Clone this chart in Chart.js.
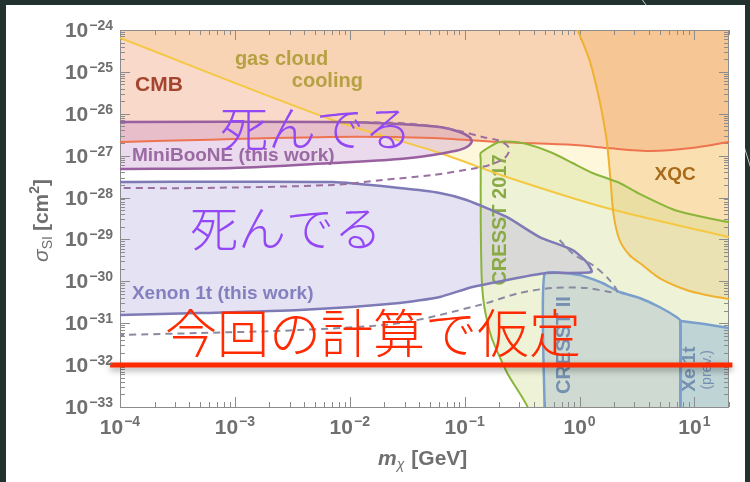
<!DOCTYPE html>
<html>
<head>
<meta charset="utf-8">
<script src="https://cdn.jsdelivr.net/npm/chart.js@4.4.0/dist/chart.umd.min.js"></script>
<style>
  html, body { margin: 0; padding: 0; background: #22332f; }
  #wrap { width: 750px; height: 482px; }
</style>
</head>
<body>
<div id="wrap"><canvas id="chart" width="750" height="482"></canvas></div>
<script>
// tick label exponents
const xTickExps = [-4, -3, -2, -1, 0, 1];
const yTickExps = [-33, -32, -31, -30, -29, -28, -27, -26, -25, -24];

// CMB bound (mass in GeV, cross section in cm^2)
const cmbMass  = [1e-4, 6.7e-3, 0.0527, 0.194, 0.906, 1.75, 4.23, 9.42, 20];
const cmbSigma = [2.12e-27, 2.79e-27, 2.64e-27, 2.12e-27, 1.80e-27, 1.52e-27, 1.29e-27, 1.52e-27, 2.12e-27];

// gas cloud cooling
const gasMass  = [1e-4, 7.1e-3, 0.0607, 0.232, 1.72, 20];
const gasSigma = [6.44e-25, 7.11e-27, 1.16e-27, 3.10e-28, 5.64e-29, 1.14e-29];

// XQC
const xqcMass  = [0.961, 1.22, 1.49, 1.72, 1.86, 1.98, 2.23, 2.72, 3.53, 4.96, 8.51, 12.7, 20];
const xqcSigma = [1e-24, 1.92e-25, 2.13e-26, 2.37e-27, 2.63e-28, 3.84e-29, 9.70e-30, 4.25e-30, 2.45e-30, 1.20e-30, 6.21e-31, 4.72e-31, 3.79e-31];

// MiniBooNE (this work), closed contour
const mbMass  = [1e-4, 7.1e-3, 0.0272, 0.0607, 0.0906, 0.110, 0.115, 0.1, 0.0741, 0.0527, 0.0272, 7.1e-3, 9.6e-4, 1e-4];
const mbSigma = [6.37e-27, 6.37e-27, 5.71e-27, 4.83e-27, 3.67e-27, 2.79e-27, 2.12e-27, 1.52e-27, 1.22e-27, 1.04e-27, 8.33e-28, 6.68e-28, 5.08e-28, 4.81e-28];

// MiniBooNE dashed variant
const mbDashMass  = [0.01, 0.0272, 0.0527, 0.0906, 0.143, 0.190, 0.232, 0.246, 0.223, 0.165, 0.127, 0.0527, 0.0194, 7.1e-3, 4.97e-4, 1e-4];
const mbDashSigma = [6.37e-27, 6.03e-27, 5.11e-27, 3.88e-27, 2.79e-27, 2.37e-27, 1.80e-27, 1.37e-27, 8.79e-28, 5.98e-28, 5.08e-28, 3.46e-28, 2.63e-28, 2.00e-28, 1.69e-28, 1.69e-28];

// Xenon 1t (this work), closed contour
const xeMass  = [1e-4, 7.1e-3, 0.0272, 0.0607, 0.104, 0.232, 0.449, 0.869, 1.15, 1.27, 0.516, 0.319, 0.117, 0.0607, 0.0272, 3.67e-3, 4.97e-4, 1e-4];
const xeSigma = [2.35e-28, 2.35e-28, 1.69e-28, 1.29e-28, 8.75e-29, 3.44e-29, 1.14e-29, 5.60e-30, 2.90e-30, 1.67e-30, 1.58e-30, 1.27e-30, 7.32e-31, 4.23e-31, 3.04e-31, 2.07e-31, 1.75e-31, 1.57e-31];

// Xenon 1t dashed variant
const xeDashMass  = [0.670, 0.906, 1.30, 1.82, 2.10, 1.15, 0.582, 0.301, 0.135, 0.0272, 3.67e-3, 4.97e-4, 1e-4];
const xeDashSigma = [9.70e-30, 4.25e-30, 2.45e-30, 1.08e-30, 5.57e-31, 6.93e-31, 6.93e-31, 5.27e-31, 2.72e-31, 1.01e-31, 6.89e-32, 5.85e-32, 5.24e-32];

// CRESST 2017 (first two and last point run outside the frame to close the region)
const cr17Mass  = [40, 0.42, 0.353, 0.237, 0.172, 0.149, 0.141, 0.138, 0.138, 0.138, 0.201, 0.319, 0.582, 0.869, 1.30, 2.23, 3.33, 6.70, 13.0, 20, 40];
const cr17Sigma = [1e-34, 1e-34, 1e-33, 6.13e-33, 4.44e-32, 2.31e-31, 1.08e-30, 2.91e-29, 7.88e-28, 1.16e-27, 2.12e-27, 2.00e-27, 1.16e-27, 6.68e-28, 3.86e-28, 2.23e-28, 1.22e-28, 5.05e-29, 3.25e-29, 2.61e-29, 2.61e-29];

// CRESST II
const cr2Mass  = [0.496, 0.496, 1.0, 1.58, 2.23, 3.33, 4.96, 6.97, 7.55, 7.55];
const cr2Sigma = [1e-33, 1.50e-30, 1.42e-30, 9.13e-31, 5.57e-31, 4.00e-31, 2.44e-31, 1.41e-31, 1.13e-31, 1e-33];

// Xenon 1t (prev.)
const xe1Mass  = [7.55, 7.55, 12.2, 20, 40, 40];
const xe1Sigma = [1e-34, 1.13e-31, 9.59e-32, 7.69e-32, 7.0e-32, 1e-34];

// assumed cross section in this calculation
const assumedMass  = [8.2e-5, 21.4];
const assumedSigma = [1e-32, 1e-32];

function pts(xs, ys) {
  return xs.map((x, i) => ({x: x, y: ys[i]}));
}

const SANS = '"Liberation Sans", Arial, sans-serif';
const JP = '"Noto Sans CJK JP", sans-serif';

const plotLabels = [
  {text: 'CMB', mass: 1.35e-4, sigma: 3.5e-26, font: 'bold 21px ' + SANS, color: '#a44530'},
  {text: 'gas cloud', mass: 1e-3, sigma: 1.46e-25, font: 'bold 20px ' + SANS, color: '#b5a043'},
  {text: 'cooling', mass: 3.13e-3, sigma: 4.36e-26, font: 'bold 20px ' + SANS, color: '#b5a043'},
  {text: 'XQC', mass: 4.49, sigma: 2.63e-28, font: 'bold 19px ' + SANS, color: '#a86b1a'},
  {text: 'MiniBooNE (this work)', mass: 1.27e-4, sigma: 7.46e-28, font: 'bold 19px ' + SANS, color: '#9a6aa3'},
  {text: 'Xenon 1t (this work)', mass: 1.27e-4, sigma: 3.79e-31, font: 'bold 19px ' + SANS, color: '#8480bf'},
  {text: 'CRESST 2017', mass: 0.206, sigma: 2.91e-29, font: 'bold 20px ' + SANS, color: '#8aaa45', rot: true},
  {text: 'CRESST II', mass: 0.741, sigma: 3.02e-32, font: 'bold 20px ' + SANS, color: '#7590b0', rot: true},
  {text: 'Xe 1t', mass: 9.05, sigma: 8.07e-33, font: 'bold 19px ' + SANS, color: '#7590b0', rot: true},
  {text: '(prev.)', mass: 13.0, sigma: 7.7e-33, font: '14px ' + SANS, color: '#7590b0', rot: true}
];

const notes = [
  {text: '死んでる', mass: 7.41e-4, sigma: 4.58e-27, font: '300 48px ' + JP, color: '#9448f5'},
  {text: '死んでる', mass: 4.06e-4, sigma: 1.87e-29, font: '300 48px ' + JP, color: '#9448f5'},
  {text: '今回の計算で仮定', mass: 2.46e-4, sigma: 5.85e-32, font: '300 52px ' + JP, color: '#ff2a00'}
];

function putText(chart, t) {
  const ctx = chart.ctx;
  const px = chart.scales.x.getPixelForValue(t.mass);
  const py = chart.scales.y.getPixelForValue(t.sigma);
  ctx.save();
  ctx.translate(px, py);
  ctx.font = t.font;
  ctx.fillStyle = t.color;
  if (t.rot) {
    ctx.rotate(-Math.PI / 2);
    ctx.textAlign = 'center';
    ctx.textBaseline = 'middle';
  } else if (t.base) {
    ctx.textBaseline = t.base;
  } else {
    ctx.textBaseline = 'alphabetic';
  }
  ctx.fillText(t.text, 0, 0);
  ctx.restore();
}

const decor = {
  id: 'decor',
  beforeDraw(chart) {
    const ctx = chart.ctx;
    ctx.save();
    ctx.fillStyle = '#22332f';
    ctx.fillRect(0, 0, 750, 482);
    ctx.strokeStyle = 'rgba(225,230,230,0.85)';
    ctx.lineWidth = 1;
    ctx.beginPath();
    ctx.moveTo(641, -2); ctx.lineTo(651, 12);
    ctx.moveTo(742, 140); ctx.lineTo(753, 175);
    ctx.stroke();
    ctx.fillStyle = '#ffffff';
    ctx.fillRect(6, 5, 739, 477);
    ctx.restore();
  },
  beforeDatasetsDraw(chart) {
    const ctx = chart.ctx;
    const a = chart.chartArea;
    const xs = chart.scales.x, ys = chart.scales.y;
    ctx.save();
    ctx.strokeStyle = '#8c8c8c';
    ctx.lineWidth = 1;
    ctx.beginPath();
    for (let e = xTickExps[0]; e <= xTickExps[xTickExps.length - 1]; e++) {
      for (let k = 1; k <= 9; k++) {
        const v = k * Math.pow(10, e);
        if (v > xs.max) break;
        const p = Math.round(xs.getPixelForValue(v)) + 0.5;
        const len = k === 1 ? 10 : 5;
        ctx.moveTo(p, a.bottom); ctx.lineTo(p, a.bottom - len);
        ctx.moveTo(p, a.top); ctx.lineTo(p, a.top + len);
      }
    }
    for (let e = yTickExps[0]; e <= yTickExps[yTickExps.length - 1]; e++) {
      for (let k = 1; k <= 9; k++) {
        const v = k * Math.pow(10, e);
        if (v > ys.max * 1.0001) break;
        const p = Math.round(ys.getPixelForValue(v)) + 0.5;
        const len = k === 1 ? 10 : 5;
        ctx.moveTo(a.left, p); ctx.lineTo(a.left + len, p);
        ctx.moveTo(a.right, p); ctx.lineTo(a.right - len, p);
      }
    }
    ctx.stroke();
    ctx.strokeRect(a.left + 0.5, a.top + 0.5, a.right - a.left - 1, a.bottom - a.top);
    ctx.restore();
    plotLabels.forEach(t => putText(chart, t));
  },
  beforeDatasetDraw(chart, args) {
    if (args.index === 0) {
      const ctx = chart.ctx;
      ctx.save();
      ctx.shadowColor = 'rgba(0,0,0,0.35)';
      ctx.shadowBlur = 6;
      ctx.shadowOffsetY = 3;
    }
  },
  afterDatasetDraw(chart, args) {
    if (args.index === 0) chart.ctx.restore();
  },
  afterDatasetsDraw(chart) {
    notes.forEach(t => putText(chart, Object.assign({base: 'middle'}, t)));
  },
  afterDraw(chart) {
    const ctx = chart.ctx;
    const a = chart.chartArea;
    const xs = chart.scales.x, ys = chart.scales.y;
    const big = 'bold 21px ' + SANS, small = 'bold 14px ' + SANS;
    ctx.save();
    ctx.fillStyle = '#6f6f6f';
    ctx.textBaseline = 'alphabetic';
    yTickExps.forEach(e => {
      const py = ys.getPixelForValue(Math.pow(10, e));
      const ex = e < 0 ? '\u2212' + (-e) : String(e);
      ctx.font = small;
      const ew = ctx.measureText(ex).width;
      ctx.textAlign = 'left';
      ctx.fillText(ex, a.left - 7 - ew, py);
      ctx.font = big;
      ctx.textAlign = 'right';
      ctx.fillText('10', a.left - 8 - ew, py + 7);
    });
    ctx.textAlign = 'left';
    xTickExps.forEach(e => {
      const px = xs.getPixelForValue(Math.pow(10, e));
      const ex = e < 0 ? '\u2212' + (-e) : String(e);
      ctx.font = big;
      const tw = ctx.measureText('10').width;
      ctx.font = small;
      const ew = ctx.measureText(ex).width;
      const x0 = px - (tw + 1 + ew) / 2;
      ctx.font = big;
      ctx.fillText('10', x0, a.bottom + 27);
      ctx.font = small;
      ctx.fillText(ex, x0 + tw + 1, a.bottom + 19);
    });

    // x title: m_chi [GeV]
    let x = 378;
    ctx.font = 'italic bold 21px ' + SANS;
    ctx.fillText('m', x, 465);
    x += ctx.measureText('m').width;
    ctx.font = 'italic 14px ' + SANS;
    ctx.fillText('\u03c7', x, 469);
    x += ctx.measureText('\u03c7').width + 7;
    ctx.font = 'bold 21px ' + SANS;
    ctx.fillText('[GeV]', x, 465);

    // y title: sigma_SI [cm^2]
    ctx.translate(48, 262);
    ctx.rotate(-Math.PI / 2);
    x = 0;
    ctx.font = 'italic 21px ' + SANS;
    ctx.fillText('\u03c3', x, 0);
    x += ctx.measureText('\u03c3').width;
    ctx.font = '14px ' + SANS;
    ctx.fillText('SI', x, 4);
    x += ctx.measureText('SI').width + 5;
    ctx.font = 'bold 21px ' + SANS;
    ctx.fillText('[cm', x, 0);
    x += ctx.measureText('[cm').width;
    ctx.font = 'bold 14px ' + SANS;
    ctx.fillText('2', x, -9);
    x += ctx.measureText('2').width;
    ctx.font = 'bold 21px ' + SANS;
    ctx.fillText(']', x, 0);
    ctx.restore();
  }
};

const line = (data, color, width, extra) => Object.assign({
  data: data,
  showLine: true,
  pointRadius: 0,
  borderColor: color,
  borderWidth: width,
  backgroundColor: 'rgba(0,0,0,0)',
  fill: false,
  tension: 0.3
}, extra || {});

new Chart(document.getElementById('chart'), {
  type: 'scatter',
  data: {
    datasets: [
      line(pts(assumedMass, assumedSigma), '#ff2a00', 5, {clip: false, tension: 0}),
      line(pts(mbDashMass, mbDashSigma), '#9a70a3', 2, {borderDash: [7, 5]}),
      line(pts(xeDashMass, xeDashSigma), '#8a8aa2', 2, {borderDash: [7, 5]}),
      line(pts(mbMass, mbSigma), '#9960a0', 2.5, {fill: 'shape', backgroundColor: 'rgba(190,130,200,0.30)'}),
      line(pts(xeMass, xeSigma), '#7e7ab5', 2.5, {fill: 'shape', backgroundColor: 'rgba(170,160,215,0.30)', tension: 0.2}),
      line(pts(cr2Mass, cr2Sigma), '#7a9fcc', 2.5, {fill: 'shape', backgroundColor: 'rgba(150,175,200,0.35)', tension: 0.15}),
      line(pts(xe1Mass, xe1Sigma), '#7a9fcc', 2.5, {fill: 'shape', backgroundColor: 'rgba(120,165,210,0.40)', tension: 0}),
      line(pts(cr17Mass, cr17Sigma), '#8ab53a', 2, {fill: 'shape', backgroundColor: 'rgba(205,220,140,0.35)', tension: 0.2}),
      line(pts(xqcMass, xqcSigma), '#f0b030', 2, {fill: 'end', backgroundColor: 'rgba(242,170,75,0.30)'}),
      line(pts(cmbMass, cmbSigma), '#ee7350', 2, {fill: 'end', backgroundColor: 'rgba(238,155,115,0.38)'}),
      line(pts(gasMass, gasSigma), '#f5c842', 2, {fill: 'end', backgroundColor: 'rgba(252,225,130,0.28)'})
    ]
  },
  options: {
    responsive: false,
    animation: false,
    events: [],
    devicePixelRatio: 1,
    layout: { padding: { left: 0, right: 21, top: 30, bottom: 0 } },
    plugins: {
      legend: { display: false },
      tooltip: { enabled: false },
      filler: { drawTime: 'beforeDatasetsDraw' }
    },
    scales: {
      x: {
        type: 'logarithmic', min: 1e-4, max: 20,
        grid: { display: false }, border: { display: false },
        ticks: { display: false },
        afterFit: s => { s.height = 75; }
      },
      y: {
        type: 'logarithmic', min: 1e-33, max: 1e-24,
        grid: { display: false }, border: { display: false },
        ticks: { display: false },
        afterFit: s => { s.width = 120; }
      }
    }
  },
  plugins: [decor]
});
</script>
</body>
</html>
